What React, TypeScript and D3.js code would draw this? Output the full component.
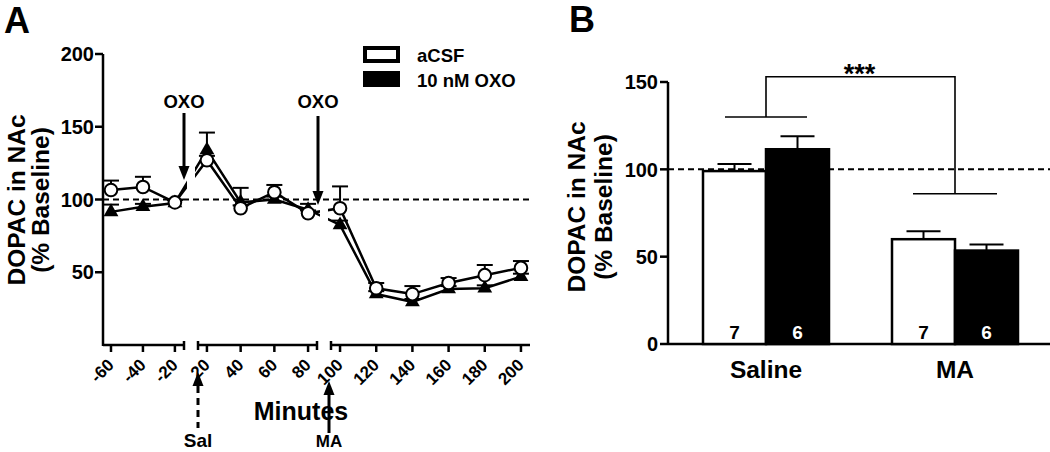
import React from 'react';
import * as d3 from 'd3';

// Panel A: time course
const minutes = [-60, -40, -20, 20, 40, 60, 80, 100, 120, 140, 160, 180, 200];
const acsfMean = [106.5, 108.6, 98, 127, 94, 105, 90.5, 94, 39, 35, 42.6, 48, 53];
const acsfSem = [6.5, 7, 2, 3, 2, 5, 2, 15, 3.6, 5.5, 3.4, 7, 4.7];
const oxoMean = [91.5, 95, 97.6, 134, 98, 100, 93, 82.5, 35, 29.6, 38.5, 39, 47];
const oxoSem = [5, 2, 2, 12, 10, 2, 4, 3, 2, 2, 2, 2, 2];
const xTicksA = [-60, -40, -20, 20, 40, 60, 80, 100, 120, 140, 160, 180, 200];
const yTicksA = [50, 100, 150, 200];

// Panel B: bars
const groups = ['Saline', 'MA'];
const treatments = ['aCSF', 'OXO'];
const barAcsf = [99, 60];
const barAcsfSem = [4, 4.5];
const barOxo = [111.5, 53.5];
const barOxoSem = [7.5, 3.5];
const nAcsf = [7, 7];
const nOxo = [6, 6];
const yTicksB = [0, 50, 100, 150];
const bracket = { top: 153, left: 130, right: 86, label: '***' };

const FONT = '"Liberation Sans", Arial, Helvetica, sans-serif';

// segmented x axis for panel A
const segs = [
  d3.scaleLinear().domain([-65, -14.3]).range([103, 184]),
  d3.scaleLinear().domain([14.7, 85.3]).range([198, 317]),
  d3.scaleLinear().domain([95, 205]).range([331, 530]),
];
const segOf = (t: number) => (t < 0 ? 0 : t <= 85.3 ? 1 : 2);
const xA = (t: number) => segs[segOf(t)](t);
const yA = d3.scaleLinear().domain([0, 200]).range([345, 54]);

const yB = d3.scaleLinear().domain([0, 150]).range([344, 82]);
const xB = d3.scalePoint<string>().domain(groups).range([766, 955]);
const inner = d3.scaleBand<string>().domain(treatments).range([-63, 63]).padding(0);

const Arrow: React.FC<{ x: number; y1: number; y2: number; dashed?: boolean; up?: boolean }> = ({ x, y1, y2, dashed, up }) => {
  const head = 14;
  const hw = 5.5;
  if (up) {
    // y1 = tip (top), y2 = tail (bottom)
    return (
      <g>
        <line x1={x} x2={x} y1={y1 + head} y2={y2} stroke="#000" strokeWidth={3} strokeDasharray={dashed ? '7,5' : undefined} />
        <path d={`M${x},${y1} L${x - hw},${y1 + head} L${x + hw},${y1 + head} Z`} fill="#000" />
      </g>
    );
  }
  return (
    <g>
      <line x1={x} x2={x} y1={y1} y2={y2 - head} stroke="#000" strokeWidth={3} />
      <path d={`M${x},${y2} L${x - hw},${y2 - head} L${x + hw},${y2 - head} Z`} fill="#000" />
    </g>
  );
};

const App: React.FC = () => {
  const line = d3
    .line<number>()
    .x((_, i) => xA(minutes[i]))
    .y((d) => yA(d));
  const tri = d3.symbol().type(d3.symbolTriangle).size(95)() as string;

  const errBars = (means: number[], sems: number[]) =>
    means.map((m, i) => {
      const x = xA(minutes[i]);
      const yt = yA(m + sems[i]);
      return (
        <g key={i} stroke="#000" strokeWidth={2}>
          <line x1={x} x2={x} y1={yA(m)} y2={yt} />
          <line x1={x - 8} x2={x + 8} y1={yt} y2={yt} />
        </g>
      );
    });

  const seg1End = segs[0].range()[1];
  const seg2Start = segs[1].range()[0];
  const seg2End = segs[1].range()[1];
  const seg3Start = segs[2].range()[0];

  return (
    <svg width={1050} height={452} style={{ position: 'absolute', left: 0, top: 0 }} fontFamily={FONT} fontWeight="bold">
      <defs>
        <clipPath id="segclip">
          <rect x={100} y={0} width={seg1End + 3 - 100} height={452} />
          <rect x={seg2Start - 3} y={0} width={seg2End + 3 - (seg2Start - 3)} height={452} />
          <rect x={seg3Start - 3} y={0} width={540 - seg3Start} height={452} />
        </clipPath>
      </defs>

      {/* ---------- Panel A ---------- */}
      <text x={4} y={33} fontSize={36}>A</text>

      {/* y axis */}
      <line x1={103} x2={103} y1={yA(200)} y2={yA(0) + 1} stroke="#000" strokeWidth={2.5} />
      {yTicksA.map((t) => (
        <g key={t}>
          <line x1={95} x2={103} y1={yA(t)} y2={yA(t)} stroke="#000" strokeWidth={2.5} />
          <text x={94} y={yA(t)} dy="0.36em" textAnchor="end" fontSize={20}>{t}</text>
        </g>
      ))}
      <text transform={`translate(25,200) rotate(-90)`} textAnchor="middle" fontSize={24.5}>DOPAC in NAc</text>
      <text transform={`translate(49,200) rotate(-90)`} textAnchor="middle" fontSize={24.5}>(% Baseline)</text>

      {/* segmented x axis */}
      {segs.map((s, i) => {
        const [r0, r1] = s.range();
        const y0 = yA(0);
        return (
          <g key={i} stroke="#000" strokeWidth={2.5}>
            <line x1={r0} x2={r1} y1={y0} y2={y0} />
            {i > 0 && <line x1={r0} x2={r0} y1={y0 - 4} y2={y0 + 5} />}
            {i < 2 && <line x1={r1} x2={r1} y1={y0 - 4} y2={y0 + 5} />}
          </g>
        );
      })}
      {xTicksA.map((t) => {
        const x = xA(t);
        return (
          <g key={t}>
            <line x1={x} x2={x} y1={yA(0)} y2={yA(0) + 7} stroke="#000" strokeWidth={2.5} />
            <text transform={`translate(${x + 4},366) rotate(-45)`} textAnchor="end" fontSize={17}>{t}</text>
          </g>
        );
      })}
      <text x={301} y={420} textAnchor="middle" fontSize={25}>Minutes</text>

      {/* baseline */}
      <line x1={103} x2={530} y1={yA(100)} y2={yA(100)} stroke="#000" strokeWidth={2} strokeDasharray="6,4" />

      {/* series lines, broken at axis gaps */}
      <g clipPath="url(#segclip)" fill="none" stroke="#000" strokeWidth={2.5}>
        <path d={line(oxoMean) as string} />
        <path d={line(acsfMean) as string} />
      </g>
      {errBars(oxoMean, oxoSem)}
      {errBars(acsfMean, acsfSem)}
      {oxoMean.map((m, i) => (
        <path key={i} d={tri} transform={`translate(${xA(minutes[i])},${yA(m)})`} fill="#000" />
      ))}
      {acsfMean.map((m, i) => (
        <circle key={i} cx={xA(minutes[i])} cy={yA(m)} r={6.3} fill="#fff" stroke="#000" strokeWidth={2} />
      ))}

      {/* legend */}
      <rect x={365} y={48} width={33} height={13} fill="#fff" stroke="#000" strokeWidth={4} />
      <rect x={363} y={71} width={37} height={16} fill="#000" />
      <text x={417} y={62} fontSize={18.5}>aCSF</text>
      <text x={417} y={87} fontSize={18.5}>10 nM OXO</text>

      {/* annotations */}
      <text x={seg1End} y={108} textAnchor="middle" fontSize={18.5}>OXO</text>
      <Arrow x={seg1End} y1={113} y2={180} />
      <text x={seg2End + 1} y={108} textAnchor="middle" fontSize={18.5}>OXO</text>
      <Arrow x={seg2End + 1} y1={116} y2={205} />
      <Arrow x={seg2Start} y1={372} y2={428} dashed up />
      <text x={seg2Start} y={447} textAnchor="middle" fontSize={19}>Sal</text>
      <Arrow x={seg3Start - 2} y1={381} y2={433} up />
      <text x={seg3Start - 2} y={447} textAnchor="middle" fontSize={17}>MA</text>

      {/* ---------- Panel B ---------- */}
      <text x={569} y={32} fontSize={36}>B</text>

      <line x1={668} x2={668} y1={yB(150)} y2={yB(0)} stroke="#000" strokeWidth={2.5} />
      <line x1={668} x2={1050} y1={yB(0)} y2={yB(0)} stroke="#000" strokeWidth={2.5} />
      {yTicksB.map((t) => (
        <g key={t}>
          <line x1={660} x2={668} y1={yB(t)} y2={yB(t)} stroke="#000" strokeWidth={2.5} />
          <text x={658} y={yB(t)} dy="0.36em" textAnchor="end" fontSize={20}>{t}</text>
        </g>
      ))}
      <text transform={`translate(585,207) rotate(-90)`} textAnchor="middle" fontSize={24.5}>DOPAC in NAc</text>
      <text transform={`translate(612,207) rotate(-90)`} textAnchor="middle" fontSize={24.5}>(% Baseline)</text>

      <line x1={668} x2={1050} y1={yB(100)} y2={yB(100)} stroke="#000" strokeWidth={2} strokeDasharray="6,4" />

      {groups.map((g, gi) => {
        const cx = xB(g) as number;
        const bw = inner.bandwidth();
        const rows = [
          { t: 'aCSF', v: barAcsf[gi], e: barAcsfSem[gi], n: nAcsf[gi], fill: '#fff', txt: '#000' },
          { t: 'OXO', v: barOxo[gi], e: barOxoSem[gi], n: nOxo[gi], fill: '#000', txt: '#fff' },
        ];
        return (
          <g key={g}>
            {rows.map((r) => {
              const x0 = cx + (inner(r.t) as number);
              const yt = yB(r.v + r.e);
              const mx = x0 + bw / 2;
              return (
                <g key={r.t}>
                  <line x1={mx} x2={mx} y1={yB(r.v)} y2={yt} stroke="#000" strokeWidth={2} />
                  <line x1={mx - 17} x2={mx + 17} y1={yt} y2={yt} stroke="#000" strokeWidth={2} />
                  <rect x={x0} y={yB(r.v)} width={bw} height={yB(0) - yB(r.v)} fill={r.fill} stroke="#000" strokeWidth={2.5} />
                  <text x={mx} y={339} textAnchor="middle" fontSize={19} fill={r.txt}>{r.n}</text>
                </g>
              );
            })}
            <text x={cx} y={378} textAnchor="middle" fontSize={24.5}>{g}</text>
          </g>
        );
      })}

      {/* significance bracket */}
      {(() => {
        const l = xB('Saline') as number;
        const r = xB('MA') as number;
        const yt = yB(bracket.top);
        return (
          <g stroke="#000" strokeWidth={1.6} fill="none">
            <path d={`M${l},${yB(bracket.left)} L${l},${yt} L${r},${yt} L${r},${yB(bracket.right)}`} />
            <line x1={l - 41} x2={l + 41} y1={yB(bracket.left)} y2={yB(bracket.left)} />
            <line x1={r - 42} x2={r + 42} y1={yB(bracket.right)} y2={yB(bracket.right)} />
            <text x={(l + r) / 2 - 1} y={yt + 6} textAnchor="middle" fontSize={27} stroke="none" fill="#000">{bracket.label}</text>
          </g>
        );
      })()}
    </svg>
  );
};

export default App;
